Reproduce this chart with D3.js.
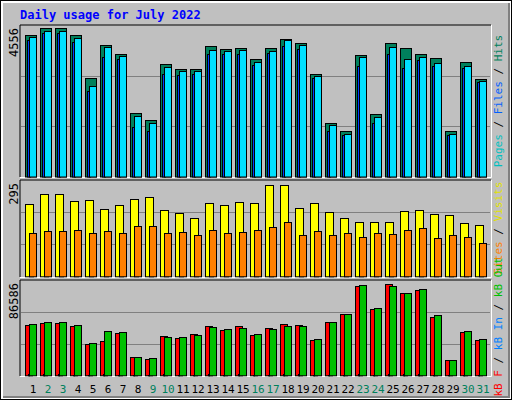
<!DOCTYPE html>
<html>
<head>
<meta charset="utf-8">
<script src="https://cdn.jsdelivr.net/npm/d3@7"></script>
<style>
body { margin: 0; background: #fff; }
text { font-family: "DejaVu Sans Mono", monospace; }
</style>
</head>
<body>
<div id="chart"></div>
<script>
var days = d3.range(1, 32);
var weekend = [2, 3, 9, 10, 16, 17, 23, 24, 30, 31];

var hits  = [4340,4556,4556,4340,3008,4030,3751,1956,1739,3442,3287,3287,3999,3906,3937,3597,3937,4216,4092,3132,1646,1398,3720,1925,4092,3937,3751,3627,1398,3504,2977];
var files = [4278,4463,4463,4247,2761,3968,3689,1863,1646,3349,3225,3225,3875,3844,3875,3504,3844,4185,4030,3070,1584,1305,3658,1832,3968,3597,3658,3473,1305,3380,2915];
var pages = [4185,4401,4401,4123,2637,3658,3597,1522,1398,3132,3101,3132,3751,3751,3751,3411,3782,3999,3906,3008,1398,1275,3380,1646,3751,3318,3566,3380,1275,3318,2884];

var visits = [234,266,266,244,247,218,231,250,257,215,205,189,237,231,240,237,295,295,221,237,208,189,176,176,176,212,215,202,199,173,167];
var sites  = [141,147,147,151,141,147,141,164,164,141,144,135,151,141,144,151,160,176,135,147,135,141,128,141,138,151,157,125,135,128,109];

var kbF   = [47580,49483,49483,46628,29500,32354,39967,17129,15226,37112,35209,39016,46628,42822,46628,38064,44725,48532,47580,33306,50435,58048,84692,62806,86586,77397,80886,55193,14274,40919,33306];
var kbOut = [48532,50435,50435,47580,30451,41870,40919,17129,16177,36161,36161,38064,45677,43774,44725,39016,43774,46628,46628,34258,50435,58048,85644,63757,84692,78031,81838,57096,14274,41870,34258];
var kbIn  = [900,900,800,600,500,800,700,400,400,800,700,700,800,700,800,700,700,800,800,600,500,400,900,600,900,800,800,600,300,700,500];

var maxHits = 4556, maxVisits = 295, maxKB = 86586;

var svg = d3.select("#chart").append("svg").attr("width", 512).attr("height", 400);

// background with raised border
svg.append("rect").attr("x", 0).attr("y", 0).attr("width", 512).attr("height", 400).attr("fill", "#000");
svg.append("rect").attr("x", 1).attr("y", 1).attr("width", 510).attr("height", 398).attr("fill", "#fff");
svg.append("rect").attr("x", 3).attr("y", 3).attr("width", 507).attr("height", 395).attr("fill", "#808080");
svg.append("rect").attr("x", 3).attr("y", 3).attr("width", 505).attr("height", 393).attr("fill", "#c0c0c0");

svg.append("text").attr("x", 20).attr("y", 19).attr("fill", "#0000ff")
   .style("font-size", "12px").style("font-weight", "bold").text("Daily usage for July 2022");

var x = d3.scaleBand().domain(days).range([25, 25 + 31 * 15]).paddingInner(0);

function panel(top, bottom, maxLabel) {
  svg.append("rect").attr("x", 20).attr("y", top).attr("width", 471).attr("height", bottom - top)
     .attr("fill", "#c0c0c0").attr("stroke", "none");
  svg.append("path").attr("d", "M20," + bottom + "V" + top + "H491").attr("stroke", "#000").attr("fill", "none");
  svg.append("path").attr("d", "M20," + (bottom + 0.5) + "H491.5V" + top).attr("stroke", "#fff").attr("fill", "none");
  svg.append("text").attr("transform", "translate(18," + (top + 3) + ") rotate(-90)")
     .attr("text-anchor", "end").style("font-size", "12px").attr("fill", "#000").text(maxLabel);
}

function grid(y, lines) {
  lines.forEach(function (v) {
    svg.append("line").attr("x1", 21).attr("x2", 490).attr("y1", Math.round(y(v)) + 0.5).attr("y2", Math.round(y(v)) + 0.5)
       .attr("stroke", "#808080").attr("stroke-width", 1);
  });
}

function bars(data, y, dx, w, fill) {
  svg.append("g").selectAll("rect").data(data).enter().append("rect")
     .attr("x", function (d, i) { return x(days[i]) + dx + 0.5; })
     .attr("y", function (d) { return Math.round(y(d)) + 0.5; })
     .attr("width", w)
     .attr("height", function (d) { return y.range()[0] - Math.round(y(d)); })
     .attr("fill", fill).attr("stroke", "#000").attr("stroke-width", 1);
}

function sideLabel(cx, cy, parts) {
  var t = svg.append("text").attr("transform", "translate(" + cx + "," + cy + ") rotate(-90)")
     .attr("text-anchor", "middle").style("font-size", "11px");
  parts.forEach(function (p) { t.append("tspan").attr("fill", p[1]).text(p[0]); });
}

// hits / files / pages
panel(25, 177, "4556");
var yH = d3.scaleLinear().domain([0, maxHits * 1.02]).range([176.5, 25]);
grid(yH, [maxHits * 1.02 / 3, maxHits * 1.02 * 2 / 3]);
bars(hits, yH, 0, 11, "#00805c");
bars(pages, yH, 2, 3, "#0040ff");
bars(files, yH, 4, 7, "#00e0ff");
sideLabel(502, 101, [["Pages", "#00c0c0"], [" / ", "#000"], ["Files", "#0060ff"], [" / ", "#000"], ["Hits", "#00805c"]]);

// visits / sites
panel(180, 277, "295");
var yV = d3.scaleLinear().domain([0, maxVisits * 1.05]).range([276.3, 180.5]);
grid(yV, [maxVisits * 1.05 / 3, maxVisits * 1.05 * 2 / 3]);
bars(visits, yV, 0, 8, "#ffff00");
bars(sites, yV, 4, 7, "#ff8000");
sideLabel(502, 228, [["Sites", "#ff8000"], [" / ", "#000"], ["Visits", "#e0e000"]]);

// kB
panel(280, 376, "86586");
var yK = d3.scaleLinear().domain([0, maxKB * 1.035]).range([375.3, 280.5]);
grid(yK, [maxKB * 1.035 / 3, maxKB * 1.035 * 2 / 3]);
bars(kbF, yK, 0, 7, "#ff0000");
bars(kbOut, yK, 4, 7, "#00c000");
bars(kbIn, yK, 3, 1, "#0080ff");
sideLabel(502, 327, [["kB F", "#ff0000"], [" / ", "#000"], ["kB In", "#0080ff"], [" / ", "#000"], ["kB Out", "#00c000"]]);

// day labels
svg.append("g").selectAll("text").data(days).enter().append("text")
   .attr("x", function (d) { return x(d) + 8; })
   .attr("y", 393).attr("text-anchor", "middle").style("font-size", "11px")
   .attr("fill", function (d) { return weekend.indexOf(d) >= 0 ? "#00805c" : "#000"; })
   .text(function (d) { return d; });
</script>
</body>
</html>
